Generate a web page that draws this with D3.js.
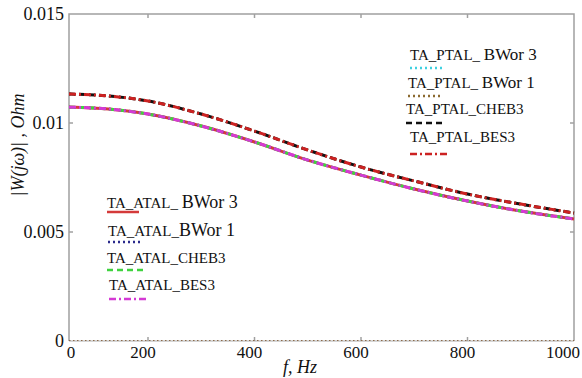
<!DOCTYPE html>
<html>
<head>
<meta charset="utf-8">
<script src="https://cdn.jsdelivr.net/npm/d3@7"></script>
<style>
    body { margin: 0; background: #fff; }
    text { font-family: "Liberation Serif", "Times New Roman", serif; fill: #111; }
</style>
</head>
<body>
<div class="chart-container"></div>
<script>
// Data
const freqs = [0, 100, 200, 300, 400, 500, 600, 700, 800, 900, 1000];
// upper group (PTAL) and lower group (ATAL), Ohm
const ptalValues = [0.01133, 0.01124, 0.01101, 0.01041, 0.00963, 0.00876, 0.00798, 0.00734, 0.00674, 0.00628, 0.00587];
const atalValues = [0.01073, 0.01064, 0.01041, 0.00986, 0.00913, 0.00830, 0.00761, 0.00697, 0.00642, 0.00596, 0.00560];
const xTicks = [200, 400, 600, 800];
const xTickLabels = ['0', '200', '400', '600', '800', '1000'];
const yTicks = [0.005, 0.01];
const yTickLabels = ['0', '0.005', '0.01', '0.015'];

// legend names: [prefix, suffix] (suffix is drawn a bit larger)
const atalNames = [['TA_ATAL_ ', 'BWor 3'], ['TA_ATAL_', 'BWor 1'], ['TA_ATAL_CHEB3', ''], ['TA_ATAL_BES3', '']];
const ptalNames = [['TA_PTAL_ ', 'BWor 3'], ['TA_PTAL_ ', 'BWor 1'], ['TA_PTAL_CHEB3', ''], ['TA_PTAL_BES3', '']];

// line styles
const atalStyles = [
    { color: '#d43a3a', dash: null, w: 3 },
    { color: '#2b2b8c', dash: '2,3', w: 2.5 },
    { color: '#3fd23f', dash: '6,4', w: 3 },
    { color: '#d43ad4', dash: '7,3,2,3', w: 3 }
];
const ptalStyles = [
    { color: '#3fd0e0', dash: '2,3', w: 2.5 },
    { color: '#8b6a30', dash: '2,3', w: 2.5 },
    { color: '#111111', dash: '6,4', w: 3 },
    { color: '#cc2222', dash: '7,3,2,3', w: 3 }
];

function setupCanvas() {
    const svg_width = 582;
    const svg_height = 378;
    const left = 69, right = 574, top = 14, bottom = 341;

    const svg = d3.select('.chart-container').append('svg')
        .attr('width', svg_width).attr('height', svg_height);

    // x axis is not linear from 0 in the picture, 0..200 is squeezed
    const xScale = d3.scaleLinear().domain([0, 200, 1000]).range([left, 148, right]);
    const yScale = d3.scaleLinear().domain([0, 0.015]).range([bottom, top]);

    // frame
    const frame = svg.append('g').attr('class', 'frame')
        .style('stroke', '#a0a0a0').style('stroke-width', 1.5).style('fill', 'none');
    frame.append('path')
        .attr('d', `M${left},${bottom}V${top}H${right}V${bottom}`);
    frame.append('line')
        .attr('x1', left).attr('x2', right).attr('y1', bottom).attr('y2', bottom)
        .style('stroke', '#c8c8c8');
    svg.append('line')
        .attr('x1', left).attr('x2', right).attr('y1', bottom - 0.5).attr('y2', bottom - 0.5)
        .style('stroke', '#8b6a4a').style('stroke-width', 1).style('stroke-dasharray', '1.5,2.5');

    // inner ticks
    const tickLen = 4;
    frame.selectAll('.xt-b').data(xTicks).join('line')
        .attr('x1', d => xScale(d)).attr('x2', d => xScale(d))
        .attr('y1', bottom).attr('y2', bottom - tickLen);
    frame.selectAll('.xt-t').data(xTicks).join('line')
        .attr('x1', d => xScale(d)).attr('x2', d => xScale(d))
        .attr('y1', top).attr('y2', top + tickLen);
    frame.selectAll('.yt-l').data(yTicks).join('line')
        .attr('x1', left).attr('x2', left + tickLen)
        .attr('y1', d => yScale(d)).attr('y2', d => yScale(d));
    frame.selectAll('.yt-r').data(yTicks).join('line')
        .attr('x1', right).attr('x2', right - tickLen)
        .attr('y1', d => yScale(d)).attr('y2', d => yScale(d));

    // tick labels
    const xLabelVals = [0, 200, 400, 600, 800, 1000];
    svg.append('g').selectAll('text').data(xLabelVals).join('text')
        .attr('x', (d, i) => i === 5 ? 580 : xScale(d) + (i === 0 ? 2 : -5))
        .attr('y', 358)
        .attr('text-anchor', (d, i) => i === 5 ? 'end' : 'middle')
        .style('font-size', '17px')
        .text((d, i) => xTickLabels[i]);

    const yLabelVals = [0, 0.005, 0.01, 0.015];
    svg.append('g').selectAll('text').data(yLabelVals).join('text')
        .attr('x', 64)
        .attr('y', d => yScale(d))
        .attr('dy', '0.35em')
        .attr('text-anchor', 'end')
        .style('font-size', '18px')
        .text((d, i) => yTickLabels[i]);

    // axis titles
    svg.append('text')
        .attr('x', 300).attr('y', 373)
        .attr('text-anchor', 'middle')
        .style('font-size', '18px').style('font-style', 'italic')
        .text('f, Hz');
    svg.append('text')
        .attr('transform', 'translate(24,145) rotate(-90)')
        .attr('text-anchor', 'middle')
        .style('font-size', '18px').style('font-style', 'italic')
        .text('|W(jω)| , Ohm');

    // curves
    const line = d3.line()
        .x((d, i) => xScale(freqs[i]))
        .y(d => yScale(d))
        .curve(d3.curveMonotoneX);

    const curves = svg.append('g').attr('class', 'curves').style('fill', 'none');
    atalStyles.forEach(s => {
        curves.append('path').attr('d', line(atalValues))
            .style('stroke', s.color).style('stroke-width', s.w)
            .style('stroke-dasharray', s.dash);
    });
    ptalStyles.forEach(s => {
        curves.append('path').attr('d', line(ptalValues))
            .style('stroke', s.color).style('stroke-width', s.w)
            .style('stroke-dasharray', s.dash);
    });

    // legends
    function drawLegend(names, styles, x, rows, bigSize) {
        const g = svg.append('g').attr('class', 'legend');
        names.forEach((name, i) => {
            const t = g.append('text')
                .attr('x', x + rows[i].dx).attr('y', rows[i].text)
                .style('font-size', '15px');
            t.append('tspan').text(name[0]);
            if (name[1]) t.append('tspan').style('font-size', bigSize).text(name[1]);
            g.append('line')
                .attr('x1', x + rows[i].dx).attr('x2', x + rows[i].dx + rows[i].len)
                .attr('y1', rows[i].line).attr('y2', rows[i].line)
                .style('stroke', styles[i].color).style('stroke-width', 2.5)
                .style('stroke-dasharray', styles[i].dash);
        });
    }
    drawLegend(atalNames, atalStyles, 107, [
        { text: 208, line: 212, dx: 0, len: 32 },
        { text: 236, line: 242, dx: 1, len: 32 },
        { text: 263, line: 270, dx: 0, len: 36 },
        { text: 290, line: 299, dx: 2, len: 38 }
    ], '18px');
    drawLegend(ptalNames, ptalStyles, 408, [
        { text: 60, line: 68, dx: 2, len: 34 },
        { text: 88, line: 96, dx: 0, len: 32 },
        { text: 114, line: 123, dx: -2, len: 40 },
        { text: 142, line: 154, dx: 2, len: 40 }
    ], '17px');
}

setupCanvas();
</script>
</body>
</html>
